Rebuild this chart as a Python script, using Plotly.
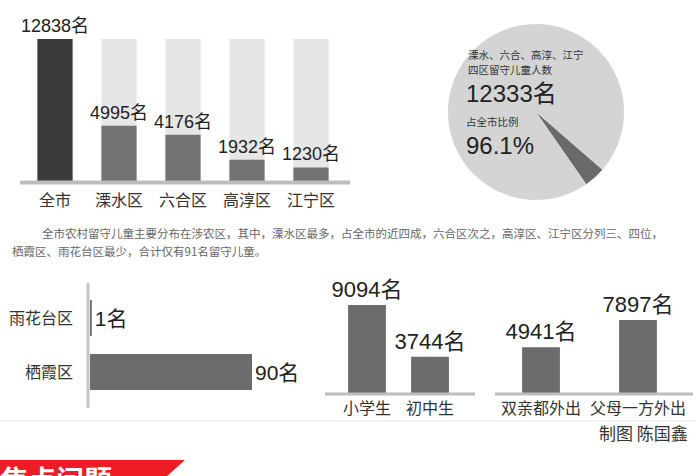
import plotly.graph_objects as go

W, H = 696, 476
FONT = "Liberation Sans, Noto Sans CJK SC"
CJK = "Noto Sans CJK SC"

# ---- data ----
district_names = ["全市", "溧水区", "六合区", "高淳区", "江宁区"]
district_counts = [12838, 4995, 4176, 1932, 1230]

pie_labels = ["其他区", "溧水、六合、高淳、江宁四区"]
pie_values = [505, 12333]
pie_share = "96.1%"

low_names = ["栖霞区", "雨花台区"]
low_counts = [90, 1]

school_names = ["小学生", "初中生"]
school_counts = [9094, 3744]

parent_names = ["双亲都外出", "父母一方外出"]
parent_counts = [4941, 7897]


def px(x):
    return x / W


def py(y):
    return 1 - y / H


fig = go.Figure()

# top chart: background + values
total = district_counts[0]
fig.add_trace(go.Bar(x=district_names, y=[total] * len(district_names), width=0.55,
                     marker=dict(color="#e6e6e6", line_width=0), hoverinfo="skip",
                     xaxis="x", yaxis="y"))
fig.add_trace(go.Bar(x=district_names, y=district_counts, width=0.55,
                     marker=dict(color=["#3a3a3a"] + ["#727272"] * 4, line_width=0),
                     text=[f"{v}名" for v in district_counts], textposition="outside",
                     textfont=dict(family=FONT, size=18, color="#222"),
                     cliponaxis=False, constraintext="none", hoverinfo="skip",
                     xaxis="x", yaxis="y"))

# pie
fig.add_trace(go.Pie(labels=pie_labels, values=pie_values, sort=False, direction="clockwise",
                     rotation=131, textinfo="none", hoverinfo="skip",
                     marker=dict(colors=["#6a6a6a", "#d4d4d4"], line=dict(width=0)),
                     domain=dict(x=[px(448), px(624)], y=[py(200), py(24)]),
                     showlegend=False))

# bottom-left horizontal bars
fig.add_trace(go.Bar(y=low_names, x=low_counts, orientation="h", width=0.67,
                     marker=dict(color="#6c6c6c", line_width=0),
                     text=[f"{v}名" for v in low_counts], textposition="outside",
                     textfont=dict(family=FONT, size=21, color="#222"),
                     cliponaxis=False, constraintext="none", hoverinfo="skip",
                     xaxis="x2", yaxis="y2"))

# bottom-middle
fig.add_trace(go.Bar(x=school_names, y=school_counts, width=0.6,
                     marker=dict(color="#6c6c6c", line_width=0),
                     text=[f"{v}名" for v in school_counts], textposition="outside",
                     textfont=dict(family=FONT, size=22, color="#222"),
                     cliponaxis=False, constraintext="none", hoverinfo="skip",
                     xaxis="x3", yaxis="y3"))

# bottom-right
fig.add_trace(go.Bar(x=parent_names, y=parent_counts, width=0.39,
                     marker=dict(color="#6c6c6c", line_width=0),
                     text=[f"{v}名" for v in parent_counts], textposition="outside",
                     textfont=dict(family=FONT, size=22, color="#222"),
                     cliponaxis=False, constraintext="none", hoverinfo="skip",
                     xaxis="x4", yaxis="y4"))

hidden = dict(showgrid=False, zeroline=False, showline=False, ticks="", fixedrange=True)
cat_font = dict(family=CJK, size=16, color="#333")

shapes = [
    # baselines
    dict(type="line", xref="paper", yref="paper", x0=px(20), x1=px(350), y0=py(182.5), y1=py(182.5),
         line=dict(color="#bdbdbd", width=4)),
    dict(type="line", xref="paper", yref="paper", x0=px(88), x1=px(88), y0=py(283), y1=py(408),
         line=dict(color="#c4c4c4", width=3)),
    dict(type="line", xref="paper", yref="paper", x0=px(325), x1=px(475), y0=py(394), y1=py(394),
         line=dict(color="#bdbdbd", width=3)),
    dict(type="line", xref="paper", yref="paper", x0=px(495), x1=px(693), y0=py(394), y1=py(394),
         line=dict(color="#bdbdbd", width=3)),
    # separator
    dict(type="line", xref="paper", yref="paper", x0=0, x1=1, y0=py(421), y1=py(421),
         line=dict(color="#ececec", width=1.5)),
    # red banner
    dict(type="path", xref="paper", yref="paper",
         path=f"M 0 {py(460)} L {px(185)} {py(460)} L {px(166)} {py(477)} L 0 {py(477)} Z",
         fillcolor="#ee1c25", line=dict(width=0)),
]

ann = []


def text(x, y, s, size, color="#333", family=CJK, xanchor="left", bold=False):
    if bold:
        s = f"<b>{s}</b>"
    ann.append(dict(x=px(x), y=py(y), xref="paper", yref="paper", text=s, showarrow=False,
                    xanchor=xanchor, yanchor="middle", align="left",
                    font=dict(family=family, size=size, color=color)))


# pie texts
text(466, 54, "溧水、六合、高淳、江宁", 10.5, "#333")
text(466, 69, "四区留守儿童人数", 10.5, "#333")
text(464, 94, "12333名", 24, "#222", FONT)
text(464, 121, "占全市比例", 10.5, "#333")
text(464, 145, pie_share, 24, "#222", FONT)

# paragraph
text(40, 233, "全市农村留守儿童主要分布在涉农区，其中，溧水区最多，占全市的近四成，六合区次之，高淳区、江宁区分列三、四位，",
     11.5, "#666")
text(10, 251, "栖霞区、雨花台区最少，合计仅有91名留守儿童。", 11.5, "#666")

# credits
text(690, 432, "制图 陈国鑫", 17, "#333", xanchor="right")
text(-2, 479, "焦点问题", 28, "#ffffff", bold=True)

fig.update_layout(
    width=W, height=H, margin=dict(l=0, r=0, t=0, b=0),
    paper_bgcolor="white", plot_bgcolor="rgba(0,0,0,0)",
    barmode="overlay", showlegend=False,
    font=dict(family=FONT),
    xaxis=dict(domain=[px(23), px(343)], type="category", tickfont=dict(family=CJK, size=16, color="#333"),
               ticklabelstandoff=8, **hidden),
    yaxis=dict(domain=[py(181), py(39)], range=[0, total], showticklabels=False, **hidden),
    xaxis2=dict(domain=[px(90), px(252)], range=[0, max(low_counts)], showticklabels=False, anchor="y2", **hidden),
    yaxis2=dict(domain=[py(399), py(291)], type="category", anchor="x2", tickfont=cat_font,
                ticklabelstandoff=16, **hidden),
    xaxis3=dict(domain=[px(335.5), px(461.5)], type="category", anchor="y3", tickfont=cat_font,
                ticklabelstandoff=4, **hidden),
    yaxis3=dict(domain=[py(393), py(305)], range=[0, max(school_counts)], showticklabels=False, anchor="x3", **hidden),
    xaxis4=dict(domain=[px(492.5), px(686.5)], type="category", anchor="y4", tickfont=cat_font,
                ticklabelstandoff=4, **hidden),
    yaxis4=dict(domain=[py(393), py(320)], range=[0, max(parent_counts)], showticklabels=False, anchor="x4", **hidden),
    shapes=shapes, annotations=ann,
)

fig.write_html("out.html", config=dict(displayModeBar=False, staticPlot=True),
               post_script="document.body.style.margin='0px';document.body.style.overflow='hidden';")
